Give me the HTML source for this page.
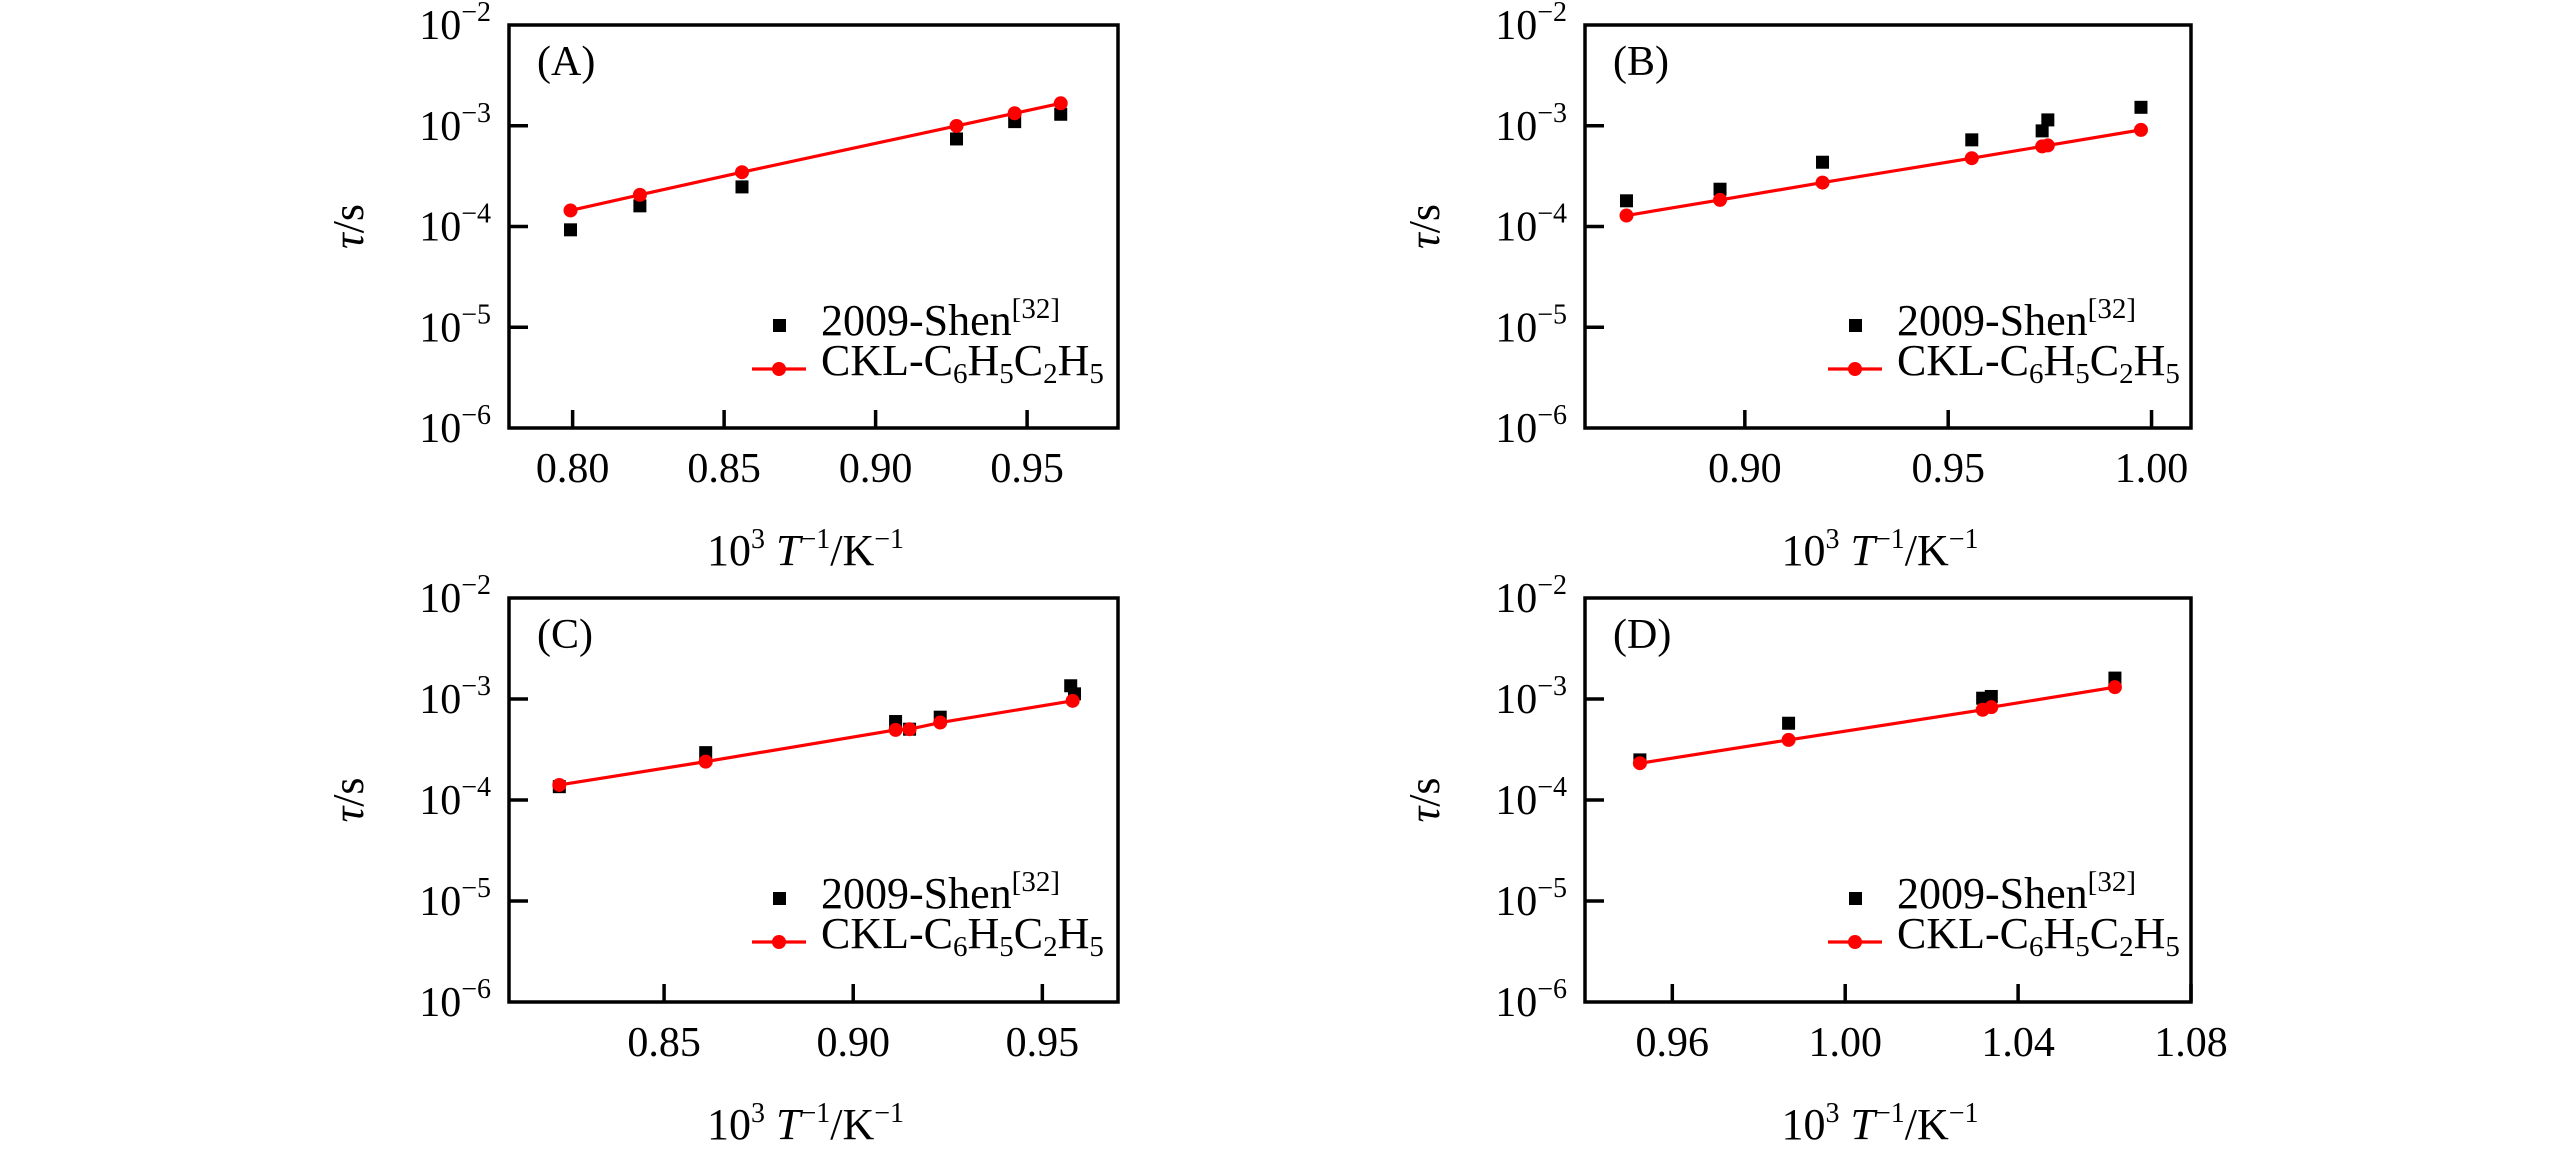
<!DOCTYPE html>
<html><head><meta charset="utf-8"><style>
html,body{margin:0;padding:0;background:#fff;}
svg{display:block;font-family:"Liberation Serif","Times New Roman",serif;}
text{font-family:"Liberation Serif",serif;}
</style></head><body>
<svg id="fig" width="2567" height="1152" viewBox="0 0 2567 1152" xmlns="http://www.w3.org/2000/svg"></svg>
<script>
// ---- data ----
const panelLabels = ["(A)", "(B)", "(C)", "(D)"];
const xDomains = [[0.779, 0.980], [0.8607, 1.0097], [0.809, 0.970], [0.9398, 1.080]];
const xTicks = [[0.80, 0.85, 0.90, 0.95], [0.90, 0.95, 1.00], [0.85, 0.90, 0.95], [0.96, 1.00, 1.04, 1.08]];
const xTickLabels = [["0.80", "0.85", "0.90", "0.95"], ["0.90", "0.95", "1.00"], ["0.85", "0.90", "0.95"], ["0.96", "1.00", "1.04", "1.08"]];
const yTickExps = [-6, -5, -4, -3, -2];
// model (CKL) series: x and log10(tau)
const modelX = [
  [0.7993, 0.8222, 0.8559, 0.9267, 0.9459, 0.9611],
  [0.8709, 0.8939, 0.9191, 0.9558, 0.9731, 0.9745, 0.9974],
  [0.8223, 0.8610, 0.9112, 0.9149, 0.9230, 0.9580],
  [0.9525, 0.9869, 1.0318, 1.0338, 1.0624]
];
const modelLogTau = [
  [-3.841, -3.686, -3.461, -3.002, -2.876, -2.777],
  [-3.891, -3.736, -3.564, -3.322, -3.205, -3.195, -3.041],
  [-3.851, -3.620, -3.306, -3.299, -3.233, -3.018],
  [-3.636, -3.405, -3.107, -3.081, -2.883]
];
// experimental (2009-Shen) series
const expX = [
  [0.7993, 0.8222, 0.8559, 0.9267, 0.9459, 0.9611],
  [0.8709, 0.8939, 0.9191, 0.9558, 0.9731, 0.9745, 0.9974],
  [0.8223, 0.8610, 0.9112, 0.9149, 0.9230, 0.9575, 0.9585],
  [0.9525, 0.9869, 1.0318, 1.0338, 1.0624]
];
const expLogTau = [
  [-4.033, -3.795, -3.607, -3.131, -2.959, -2.886],
  [-3.745, -3.630, -3.362, -3.140, -3.051, -2.942, -2.817],
  [-3.868, -3.531, -3.223, -3.299, -3.180, -2.869, -2.949],
  [-3.603, -3.240, -2.992, -2.975, -2.793]
];
// ---- layout ----
const NS = "http://www.w3.org/2000/svg";
const svg = document.getElementById("fig");
const boxes = [[509, 25, 1118, 428], [1585, 25, 2191, 428], [509, 598, 1118, 1002], [1585, 598, 2191, 1002]];
const ids = ["a", "b", "c", "d"];
function mk(tag, attrs, parent) {
  const e = document.createElementNS(NS, tag);
  for (const k in attrs) e.setAttribute(k, attrs[k]);
  if (tag === "text") e.setAttribute("font-family", "Liberation Serif, serif");
  (parent || svg).appendChild(e);
  return e;
}
function tspan(parent, txt, attrs) {
  const t = mk("tspan", attrs || {}, parent);
  t.textContent = txt;
  return t;
}
for (let p = 0; p < 4; p++) {
  const [L, T, R, B] = boxes[p];
  const g = mk("g", {});
  
  
  const xs = v => L + (v - xDomains[p][0]) / (xDomains[p][1] - xDomains[p][0]) * (R - L);
  const ys = lv => B - (lv - (-6)) / 4 * (B - T);
  const fr = mk("rect", {x: L, y: T, width: R - L, height: B - T, fill: "none", stroke: "#000", "stroke-width": 3.5}, g);
  
  
  yTickExps.forEach(e => {
    const y = ys(e);
    if (e > -6 && e < -2) mk("line", {x1: L, x2: L + 19, y1: y, y2: y, stroke: "#000", "stroke-width": 3.5}, g);
    const t = mk("text", {x: L - 18, y: y + 14, "text-anchor": "end", "font-size": 42, fill: "#000"}, g);
    
    
    tspan(t, "10");
    tspan(t, "\u2212" + (-e), {"font-size": 28, dy: -18});
  });
  xTicks[p].forEach((v, i) => {
    const x = xs(v);
    mk("line", {x1: x, x2: x, y1: B, y2: B - 18, stroke: "#000", "stroke-width": 3.5}, g);
    const t = mk("text", {x: x, y: B + 54, "text-anchor": "middle", "font-size": 42, fill: "#000"}, g);
    
    
    t.textContent = xTickLabels[p][i];
  });
  const yt = mk("text", {transform: `translate(${L - 146},${(T + B) / 2}) rotate(-90)`, "text-anchor": "middle", "font-size": 44, fill: "#000"}, g);
  
  
  tspan(yt, "\u03C4", {"font-style": "italic"});
  tspan(yt, "/s");
  const xt = mk("text", {x: (L + R) / 2 - 8, y: B + 137, "text-anchor": "middle", "font-size": 44, fill: "#000"}, g);
  
  
  tspan(xt, "10");
  tspan(xt, "3", {"font-size": 28, dy: -17});
  tspan(xt, " T", {"font-style": "italic", dy: 17});
  tspan(xt, "\u22121", {"font-size": 28, dy: -17});
  tspan(xt, "/K", {dy: 17});
  tspan(xt, "\u22121", {"font-size": 28, dy: -17});
  const pl = mk("text", {x: L + 28, y: T + 50, "font-size": 42, fill: "#000"}, g);
  
  
  pl.textContent = panelLabels[p];
  expX[p].forEach((v, i) => {
    const s = mk("rect", {x: xs(v) - 6.5, y: ys(expLogTau[p][i]) - 6.5, width: 13, height: 13, fill: "#000"}, g);
    
    
  });
  const pts = modelX[p].map((v, i) => xs(v) + "," + ys(modelLogTau[p][i])).join(" ");
  const pline = mk("polyline", {points: pts, fill: "none", stroke: "#f00", "stroke-width": 3.2}, g);
  
  
  modelX[p].forEach((v, i) => {
    const c = mk("circle", {cx: xs(v), cy: ys(modelLogTau[p][i]), r: 7, fill: "#f00"}, g);
    
    
  });
  const lg = mk("g", {}, g);
  
  
  mk("rect", {x: L + 264, y: T + 294, width: 13, height: 13, fill: "#000"}, lg);
  const l1 = mk("text", {x: L + 312, y: T + 310, "font-size": 44, fill: "#000"}, lg);
  
  
  tspan(l1, "2009-Shen");
  tspan(l1, "[32]", {"font-size": 29, dy: -17});
  mk("line", {x1: L + 243, x2: L + 297, y1: T + 344, y2: T + 344, stroke: "#f00", "stroke-width": 3.2}, lg);
  mk("circle", {cx: L + 270, cy: T + 344, r: 7, fill: "#f00"}, lg);
  const l2 = mk("text", {x: L + 312, y: T + 350, "font-size": 44, fill: "#000"}, lg);
  
  
  tspan(l2, "CKL-C");
  tspan(l2, "6", {"font-size": 29, dy: 8});
  tspan(l2, "H", {dy: -8});
  tspan(l2, "5", {"font-size": 29, dy: 8});
  tspan(l2, "C", {dy: -8});
  tspan(l2, "2", {"font-size": 29, dy: 8});
  tspan(l2, "H", {dy: -8});
  tspan(l2, "5", {"font-size": 29, dy: 8});
}
</script>
</body></html>
